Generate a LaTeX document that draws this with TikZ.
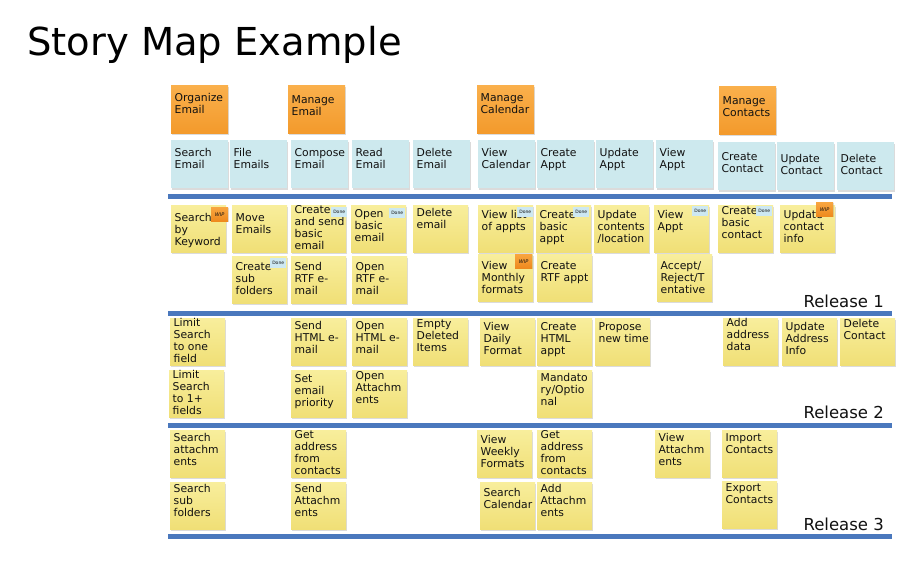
\documentclass[tikz,border=0pt]{standalone}
\usepackage{fontspec}
\setmainfont{DejaVu Sans}
\usetikzlibrary{shadows}
\definecolor{ylwtop}{HTML}{F8EE9C}
\definecolor{ylwbot}{HTML}{F0DF76}
\definecolor{bluecard}{HTML}{CDE9EE}
\definecolor{orgtop}{HTML}{FAB04C}
\definecolor{orgbot}{HTML}{F39A2C}
\definecolor{donecol}{HTML}{CDE8F2}
\definecolor{wiptop}{HTML}{F8A640}
\definecolor{wipbot}{HTML}{EE8A1E}
\definecolor{linecol}{HTML}{4A78BD}
\definecolor{txt}{HTML}{111111}
\tikzset{
  card/.style={anchor=north west, minimum width=55pt, minimum height=47pt, inner sep=0pt, draw=none,
    drop shadow={shadow xshift=0.7pt, shadow yshift=-1.3pt, opacity=0.28}},
  ycard/.style={card, top color=ylwtop, bottom color=ylwbot},
  bcard/.style={card, fill=bluecard, minimum width=57pt, minimum height=48pt},
  ocard/.style={card, top color=orgtop, bottom color=orgbot, minimum width=57pt, minimum height=48pt},
  ctext/.style={anchor=north west, align=left, inner sep=0pt, font=\fontsize{10.8}{12}\selectfont, text=txt},
  donetag/.style={anchor=north east, fill=donecol, minimum width=16pt, minimum height=10pt, inner sep=0pt,
    font=\fontsize{4.5}{5}\selectfont, text=txt},
  wiptag/.style={anchor=north east, top color=wiptop, bottom color=wipbot, minimum width=17pt, minimum height=14pt,
    inner sep=0pt, font=\fontsize{5}{6}\selectfont\itshape, text=txt,
    drop shadow={shadow xshift=0.5pt, shadow yshift=-0.8pt, opacity=0.25}},
  relline/.style={line width=5pt, draw=linecol},
  rel/.style={anchor=base east, inner sep=0pt, font=\fontsize{16.5}{18}\selectfont, text=txt}
}
\newcommand{\stcard}[6][7]{%
  \node[#2] (#3) at (#4,#5) {};
  \node[ctext] (#3t) at ([xshift=3.5pt,yshift=-#1pt]#3.north west) {#6};}
\begin{document}
\begin{tikzpicture}[x=1pt,y=-1pt]
\useasboundingbox[fill=white] (0,0) rectangle (900,560);
\node[anchor=base west, inner sep=0pt, font=\fontsize{38.5}{42}\selectfont, text=black] (title) at (27,55) {Story Map Example};

% release lines
\foreach \n/\yy in {1/196,2/313,3/425,4/536}{
  \coordinate (l\n a) at (168,\yy);
  \coordinate (l\n b) at (892,\yy);
  \draw[relline] (l\n a) -- (l\n b);
}

% activities
\stcard[8]{ocard}{o1}{171}{85}{Organize\\Email}
\stcard[10]{ocard}{o2}{288}{85}{Manage\\Email}
\stcard[8]{ocard}{o3}{477}{85}{Manage\\Calendar}
\stcard[10]{ocard}{o4}{719}{86}{Manage\\Contacts}

% stories
\stcard[8]{bcard}{b1}{171}{140}{Search\\Email}
\stcard[8]{bcard}{b2}{230}{140}{File\\Emails}
\stcard[8]{bcard}{b3}{291}{140}{Compose\\Email}
\stcard[8]{bcard}{b4}{352}{140}{Read\\Email}
\stcard[8]{bcard}{b5}{413}{140}{Delete\\Email}
\stcard[8]{bcard}{b6}{478}{140}{View\\Calendar}
\stcard[8]{bcard}{b7}{537}{140}{Create\\Appt}
\stcard[8]{bcard}{b8}{596}{140}{Update\\Appt}
\stcard[8]{bcard}{b9}{656}{140}{View\\Appt}
\stcard[10]{bcard}{b10}{718}{142}{Create\\Contact}
\stcard[12]{bcard}{b11}{777}{142}{Update\\Contact}
\stcard[12]{bcard}{b12}{837}{142}{Delete\\Contact}

% release 1
\stcard[8]{ycard}{r1a}{171}{205}{Search\\by\\Keyword}
\node[wiptag] (w1) at ([xshift=2pt,yshift=-2pt]r1a.north east) {WIP};
\stcard[8]{ycard}{r1b}{232}{205}{Move\\Emails}
\stcard[0]{ycard}{r1c}{291}{205}{Create\\and send\\basic\\email}
\node[donetag] (d1) at ([xshift=1pt,yshift=-2pt]r1c.north east) {Done};
\stcard[4]{ycard}{r1d}{351}{205}{Open\\basic\\email}
\node[donetag] (d2) at ([xshift=-1pt,yshift=-3pt]r1d.north east) {Done};
\stcard[3]{ycard}{r1e}{413}{205}{Delete\\email}
\stcard[5]{ycard}{r1f}{478}{205}{View list\\of appts}
\node[donetag] (d3) at ([xshift=0pt,yshift=-2pt]r1f.north east) {Done};
\stcard[5]{ycard}{r1g}{536}{205}{Create\\basic\\appt}
\node[donetag] (d4) at ([xshift=-2pt,yshift=-2pt]r1g.north east) {Done};
\stcard[5]{ycard}{r1h}{594}{205}{Update\\contents\\/location}
\stcard[5]{ycard}{r1i}{654}{205}{View\\Appt}
\node[donetag] (d5) at ([xshift=-1pt,yshift=-1pt]r1i.north east) {Done};
\stcard[1]{ycard}{r1j}{718}{205}{Create\\basic\\contact}
\node[donetag] (d6) at ([xshift=-1pt,yshift=-1pt]r1j.north east) {Done};
\stcard[5]{ycard}{r1k}{780}{205}{Update\\contact\\info}
\node[wiptag] (w2) at ([xshift=-2pt,yshift=3pt]r1k.north east) {WIP};

\stcard[6]{ycard}{r1l}{232}{256}{Create\\sub\\folders}
\node[donetag] (d7) at ([xshift=-1pt,yshift=-2pt]r1l.north east) {Done};
\stcard[6]{ycard}{r1m}{291}{256}{Send\\RTF e-\\mail}
\stcard[6]{ycard}{r1n}{352}{256}{Open\\RTF e-\\mail}
\stcard[7]{ycard}{r1o}{478}{254}{View\\Monthly\\formats}
\node[wiptag] (w3) at ([xshift=-1pt,yshift=0pt]r1o.north east) {WIP};
\stcard[7]{ycard}{r1p}{537}{254}{Create\\RTF appt}
\stcard[7]{ycard}{r1q}{657}{254}{Accept/\\Reject/T\\entative}
\node[rel] (rel1) at (884,307) {Release 1};

% release 2
\stcard[0]{ycard}{r2a}{170}{318}{Limit\\Search\\to one\\field}
\stcard[3]{ycard}{r2b}{291}{318}{Send\\HTML e-\\mail}
\stcard[3]{ycard}{r2c}{352}{318}{Open\\HTML e-\\mail}
\stcard[1]{ycard}{r2d}{413}{318}{Empty\\Deleted\\Items}
\stcard[4]{ycard}{r2e}{480}{318}{View\\Daily\\Format}
\stcard[4]{ycard}{r2f}{537}{318}{Create\\HTML\\appt}
\stcard[4]{ycard}{r2g}{595}{318}{Propose\\new time}
\stcard[0]{ycard}{r2h}{723}{318}{Add\\address\\data}
\stcard[4]{ycard}{r2i}{782}{318}{Update\\Address\\Info}
\stcard[1]{ycard}{r2j}{840}{318}{Delete\\Contact}

\stcard[0]{ycard}{r2k}{169}{370}{Limit\\Search\\to 1+\\fields}
\stcard[4]{ycard}{r2l}{291}{370}{Set\\email\\priority}
\stcard[1]{ycard}{r2m}{352}{370}{Open\\Attachm\\ents}
\stcard[3]{ycard}{r2n}{537}{370}{Mandato\\ry/Optio\\nal}
\node[rel] (rel2) at (884,418) {Release 2};

% release 3
\stcard[3]{ycard}{r3a}{170}{430}{Search\\attachm\\ents}
\stcard[0]{ycard}{r3b}{291}{430}{Get\\address\\from\\contacts}
\stcard[5]{ycard}{r3c}{477}{430}{View\\Weekly\\Formats}
\stcard[0]{ycard}{r3d}{537}{430}{Get\\address\\from\\contacts}
\stcard[3]{ycard}{r3e}{655}{430}{View\\Attachm\\ents}
\stcard[3]{ycard}{r3f}{722}{430}{Import\\Contacts}

\stcard[2]{ycard}{r3g}{170}{482}{Search\\sub\\folders}
\stcard[2]{ycard}{r3h}{291}{482}{Send\\Attachm\\ents}
\stcard[6]{ycard}{r3i}{480}{482}{Search\\Calendar}
\stcard[2]{ycard}{r3j}{537}{482}{Add\\Attachm\\ents}
\stcard[2]{ycard}{r3k}{722}{481}{Export\\Contacts}
\node[rel] (rel3) at (884,530) {Release 3};
\end{tikzpicture}
\end{document}
